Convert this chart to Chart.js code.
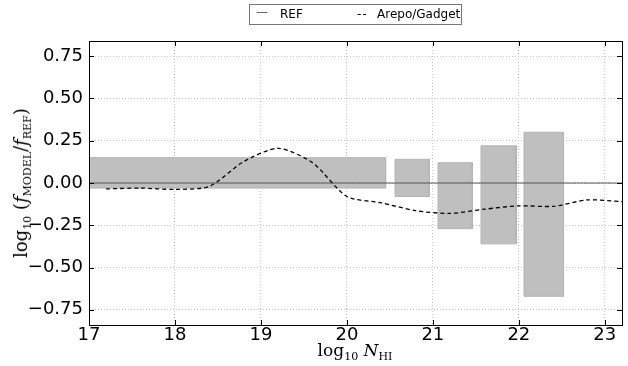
<!DOCTYPE html>
<html>
<head>
<meta charset="utf-8">
<script src="https://cdn.jsdelivr.net/npm/chart.js@4.4.1/dist/chart.umd.min.js"></script>
<style>
  html,body{margin:0;padding:0;background:#fff;}
  #wrap{position:relative;width:628px;height:366px;overflow:hidden;}
  #c{position:absolute;left:0;top:0;}
  .legend{position:absolute;left:249px;top:4px;width:213px;height:21px;border:1px solid #777;box-sizing:border-box;
    font:12px "DejaVu Sans",sans-serif;color:#000;}
  .legend span{position:absolute;top:2px;white-space:nowrap;}
  .ttl{position:absolute;font-family:"DejaVu Serif",serif;color:#000;white-space:nowrap;}
  .ttl sub{font-size:11px;vertical-align:-4px;}
  #xt{left:0;width:710px;top:340px;text-align:center;font-size:17px;}
  #yt{left:22px;top:183px;transform:translate(-50%,-50%) rotate(-90deg);font-size:18px;}
</style>
</head>
<body>
<div id="wrap">
  <canvas id="c" width="628" height="366"></canvas>
  <div class="legend">
    <span style="left:6px;top:0px;color:#555">—</span><span style="left:30px">REF</span>
    <span style="left:107px;letter-spacing:1px">--</span><span style="left:127px">Arepo/Gadget</span>
  </div>
  <div class="ttl" id="xt">log<sub>10</sub> <i>N</i><sub>HI</sub></div>
  <div class="ttl" id="yt">log<sub>10</sub> (<i>f</i><sub>MODEL</sub>/<i>f</i><sub>REF</sub>)</div>
</div>
<script>
const xTicks = [17, 18, 19, 20, 21, 22, 23];
const yTicks = [-0.75, -0.5, -0.25, 0, 0.25, 0.5, 0.75];
const lineX = [17.2, 17.6, 18.0, 18.4, 18.8, 19.2, 19.6, 20.0, 20.4, 20.8, 21.2, 21.6, 22.0, 22.4, 22.8, 23.2];
const lineY = [-0.035, -0.03, -0.038, -0.02, 0.127, 0.205, 0.12, -0.08, -0.117, -0.164, -0.18, -0.155, -0.135, -0.138, -0.1, -0.11];
const refX = [17, 23.2];
const refY = [0, 0];
const boxX0 = [17.0, 20.56, 21.06, 21.56, 22.06];
const boxX1 = [20.45, 20.96, 21.46, 21.97, 22.52];
const boxHi = [0.15, 0.14, 0.12, 0.22, 0.30];
const boxLo = [-0.03, -0.08, -0.27, -0.36, -0.67];

const boxSets = boxX0.map((x0,i)=>({
  data:[{x:x0,y:boxLo[i]},{x:x0,y:boxHi[i]},{x:boxX1[i],y:boxHi[i]},{x:boxX1[i],y:boxLo[i]},{x:x0,y:boxLo[i]}],
  borderColor:'#b4b4b4', borderWidth:1, backgroundColor:'#bfbfbf', fill:'shape', pointRadius:0, tension:0, order:3
}));

const fmt = v => { const s = Math.abs(v).toFixed(2); return (v < -1e-9 ? '\u2212' : '') + s; };

const frame = {
  id:'frame',
  afterDatasetsDraw(chart){
    const {ctx, chartArea:a, scales:{x, y}} = chart;
    ctx.save();
    ctx.strokeStyle = '#000'; ctx.lineWidth = 1;
    ctx.beginPath();
    xTicks.forEach(v=>{ const p = Math.round(x.getPixelForValue(v))+0.5;
      ctx.moveTo(p,a.bottom); ctx.lineTo(p,a.bottom-5); ctx.moveTo(p,a.top); ctx.lineTo(p,a.top+5); });
    yTicks.forEach(v=>{ const p = Math.round(y.getPixelForValue(v))+0.5;
      ctx.moveTo(a.left,p); ctx.lineTo(a.left+5,p); ctx.moveTo(a.right,p); ctx.lineTo(a.right-5,p); });
    ctx.stroke();
    ctx.strokeRect(Math.round(a.left)+0.5, Math.round(a.top)+0.5, Math.round(a.right-a.left), Math.round(a.bottom-a.top));
    ctx.restore();
  }
};

new Chart(document.getElementById('c'), {
  type:'line',
  data:{ datasets:[
    { label:'Arepo/Gadget', data:lineX.map((x,i)=>({x, y:lineY[i]})), borderColor:'#000', borderWidth:1.3,
      borderDash:[4,3], pointRadius:0, tension:0.25, fill:false, order:1 },
    { label:'REF', data:refX.map((x,i)=>({x, y:refY[i]})), borderColor:'#555', borderWidth:1, pointRadius:0, fill:false, order:2 },
    ...boxSets
  ]},
  options:{
    responsive:false, animation:false, events:[],
    layout:{ padding:{ top:41, right:6, left:0, bottom:0 } },
    plugins:{ legend:{ display:false }, tooltip:{ enabled:false } },
    scales:{
      x:{ type:'linear', min:17, max:23.2,
        afterFit(s){ s.height = 41; },
        afterBuildTicks(s){ s.ticks = xTicks.map(v=>({value:v})); },
        ticks:{ color:'#000', font:{ family:'DejaVu Sans', size:18 }, padding:0, maxRotation:0 },
        grid:{ color:'#c8c8c8', drawTicks:false, lineWidth:1 },
        border:{ display:false, dash:[1,2] } },
      y:{ type:'linear', min:-0.84, max:0.84,
        afterFit(s){ s.width = 89; },
        afterBuildTicks(s){ s.ticks = yTicks.map(v=>({value:v})); },
        ticks:{ color:'#000', font:{ family:'DejaVu Sans', size:18 }, padding:6, callback:v=>fmt(v) },
        grid:{ color:'#c8c8c8', drawTicks:false, lineWidth:1 },
        border:{ display:false, dash:[1,2] } }
    }
  },
  plugins:[frame]
});
</script>
</body>
</html>
